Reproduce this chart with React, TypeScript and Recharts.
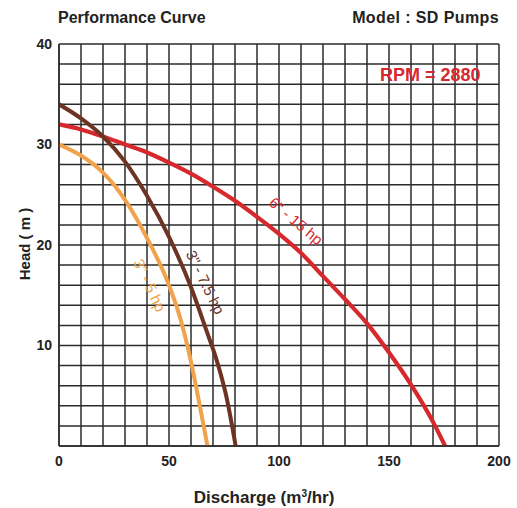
import { LineChart, Line, XAxis, YAxis, CartesianGrid, ReferenceDot } from 'recharts';

// Discharge (m3/hr) vs head (m)
const RED_Q = [0, 10, 20, 30, 40, 50, 60, 70, 80, 90, 100, 110, 120, 130, 140, 150, 160, 170, 175.5];
const RED_H = [32, 31.5, 30.8, 30, 29.2, 28.2, 27.1, 25.8, 24.4, 22.8, 21.1, 19.2, 16.9, 14.6, 12.2, 9.3, 6.1, 2.4, 0];

const BROWN_Q = [0, 10, 20, 30, 40, 50, 60, 67, 72, 76, 80.3];
const BROWN_H = [34, 32.6, 30.8, 28.3, 24.9, 20.8, 15.8, 11.5, 8.3, 5, 0];

const ORANGE_Q = [0, 10, 20, 30, 40, 50, 55, 60, 64, 67.5];
const ORANGE_H = [30, 28.9, 27.2, 24.5, 20.7, 16, 12.8, 8.4, 4, 0];

const X_GRID = [0, 10, 20, 30, 40, 50, 60, 70, 80, 90, 100, 110, 120, 130, 140, 150, 160, 170, 180, 190, 200];
const X_LABELS = [0, 50, 100, 150, 200];
const Y_GRID = [0, 2, 4, 6, 8, 10, 12, 14, 16, 18, 20, 22, 24, 26, 28, 30, 32, 34, 36, 38, 40];
const Y_LABELS = [10, 20, 30, 40];

const RED = '#d7282d';
const BROWN = '#6d3423';
const ORANGE = '#f0a24c';
const INK = '#222';
const FONT = '"Liberation Sans", Arial, sans-serif';

function toPoints(qs: number[], hs: number[]) {
  return qs.map((q, i) => ({ q, h: hs[i] }));
}

function curveLabel(text: string, angle: number, color: string) {
  return (props: any) => {
    const vb = props.viewBox || {};
    const x = vb.x + (vb.width || 0) / 2;
    const y = vb.y + (vb.height || 0) / 2;
    return (
      <text
        x={x}
        y={y}
        transform={`rotate(${angle}, ${x}, ${y})`}
        textAnchor="middle"
        dominantBaseline="central"
        fill={color}
        fontSize={15}
        fontFamily={FONT}
      >
        {text}
      </text>
    );
  };
}

const tickStyle = { fontSize: 14, fontWeight: 700, fill: INK, fontFamily: FONT };

export default function App() {
  const red = toPoints(RED_Q, RED_H);
  const brown = toPoints(BROWN_Q, BROWN_H);
  const orange = toPoints(ORANGE_Q, ORANGE_H);

  const textBase: React.CSSProperties = {
    position: 'absolute',
    fontFamily: FONT,
    fontWeight: 700,
    color: INK,
    whiteSpace: 'nowrap',
    lineHeight: 1,
  };

  return (
    <div style={{ position: 'absolute', left: 0, top: 0, width: 517, height: 508, background: '#fff' }}>
      <LineChart width={517} height={508} margin={{ top: 44, right: 18, bottom: 22, left: 19 }}>
        <CartesianGrid stroke="#2b2b2b" strokeWidth={1.5} />
        <XAxis
          dataKey="q"
          type="number"
          domain={[0, 200]}
          ticks={X_GRID}
          interval={0}
          allowDataOverflow
          tickFormatter={(v: number) => (X_LABELS.includes(v) ? String(v) : '')}
          tick={tickStyle}
          tickLine={false}
          tickSize={0}
          tickMargin={10}
          height={40}
          axisLine={{ stroke: '#2b2b2b', strokeWidth: 1.5 }}
        />
        <YAxis
          type="number"
          domain={[0, 40]}
          ticks={Y_GRID}
          interval={0}
          allowDataOverflow
          tickFormatter={(v: number) => (Y_LABELS.includes(v) ? String(v) : '')}
          tick={tickStyle}
          tickLine={false}
          tickSize={0}
          tickMargin={7}
          width={40}
          axisLine={{ stroke: '#2b2b2b', strokeWidth: 1.5 }}
        />
        <Line data={red} dataKey="h" type="monotone" stroke={RED} strokeWidth={4.2} dot={false} isAnimationActive={false} />
        <Line data={brown} dataKey="h" type="monotone" stroke={BROWN} strokeWidth={4} dot={false} isAnimationActive={false} />
        <Line data={orange} dataKey="h" type="monotone" stroke={ORANGE} strokeWidth={4} dot={false} isAnimationActive={false} />
        <ReferenceDot x={107.8} y={22.4} r={0} stroke="none" fill="none" label={{ content: curveLabel('6" - 15 hp', 40, RED) }} />
        <ReferenceDot x={66.6} y={16.3} r={0} stroke="none" fill="none" label={{ content: curveLabel('3" - 7.5 hp', 64, BROWN) }} />
        <ReferenceDot x={41.3} y={16} r={0} stroke="none" fill="none" label={{ content: curveLabel('3" - 5 hp', 65, ORANGE) }} />
      </LineChart>

      <div style={{ ...textBase, left: 58, top: 10, fontSize: 16 }}>Performance Curve</div>
      <div style={{ ...textBase, right: 18, top: 10, fontSize: 16, letterSpacing: 0.4 }}>Model : SD Pumps</div>
      <div style={{ ...textBase, left: 380, top: 66, fontSize: 18, color: RED }}>RPM = 2880</div>
      <div
        style={{
          ...textBase,
          left: 24,
          top: 244,
          fontSize: 15,
          transform: 'translate(-50%, -50%) rotate(-90deg)',
        }}
      >
        Head ( m )
      </div>
      <div style={{ ...textBase, left: 264, top: 497, fontSize: 17, transform: 'translate(-50%, -50%)' }}>
        Discharge (m<sup style={{ fontSize: 10, verticalAlign: 'top', lineHeight: 1 }}>3</sup>/hr)
      </div>
    </div>
  );
}
